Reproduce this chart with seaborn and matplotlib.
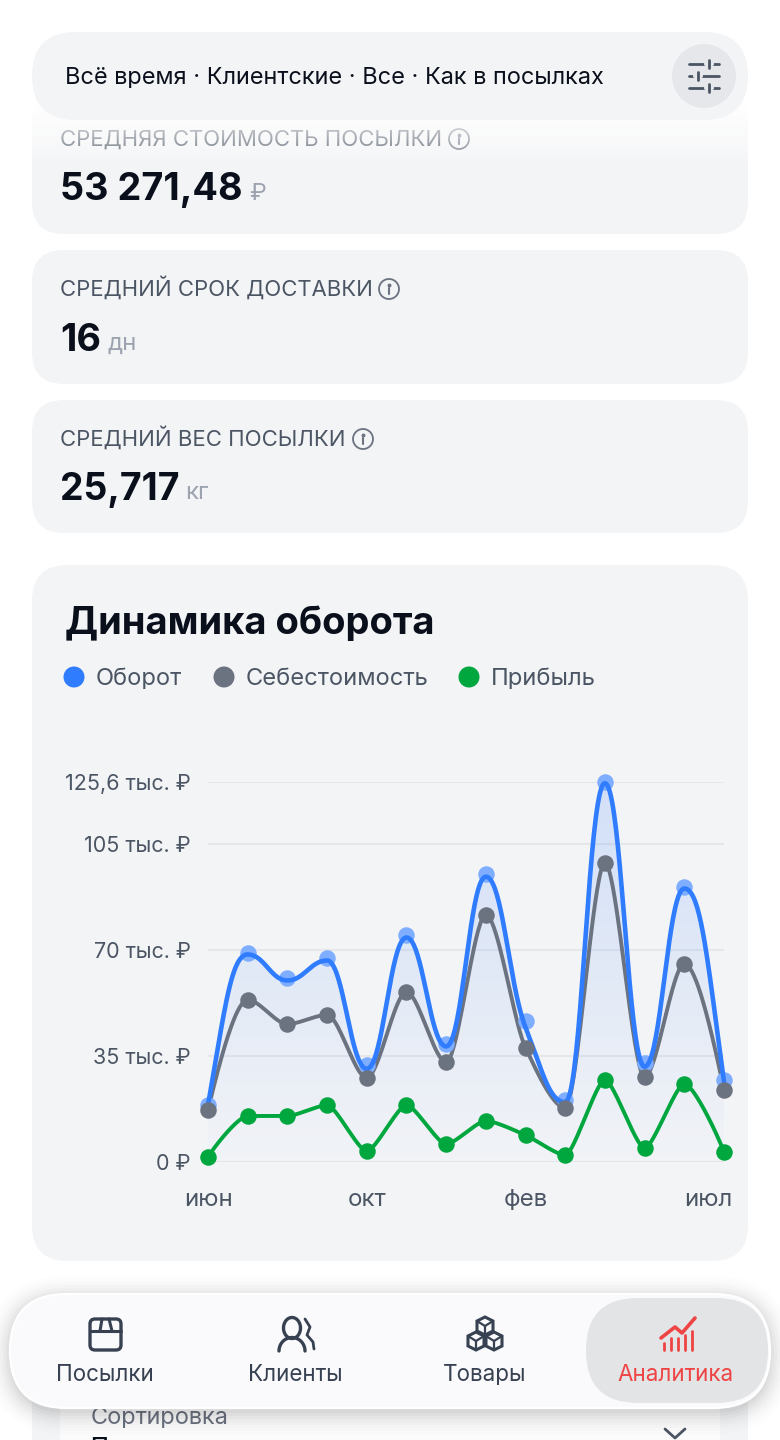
import numpy as np
import pandas as pd
import matplotlib
matplotlib.use("Agg")
import matplotlib.pyplot as plt
import seaborn as sns
from matplotlib.patches import Circle, FancyBboxPatch, Polygon
from matplotlib.transforms import ScaledTranslation

# values in thousands of rubles
oborot = [18.8, 69.0, 60.9, 67.4, 32.0, 75.0, 39.0, 95.2, 46.6, 20.5, 125.6, 32.7, 90.9, 27.1]
# the blue curve runs slightly off its own dots in the picture
oborot_curve = [18.8, 68.6, 60.0, 66.6, 30.8, 74.2, 38.2, 94.3, 44.5, 19.8, 125.2, 31.5, 90.4, 26.5]
sebest = [17.2, 53.6, 45.6, 48.6, 27.8, 56.2, 33.0, 81.7, 37.7, 17.9, 98.8, 28.1, 65.5, 23.8]
pribyl = [1.7, 15.2, 15.2, 18.8, 3.6, 18.8, 5.9, 13.6, 8.9, 2.3, 27.1, 4.6, 25.8, 3.3]
months = list(range(14))
month_ticks = [0, 4, 8, 13]
month_labels = ["июн", "окт", "фев", "июл"]
y_ticks = [0, 35, 70, 105, 125.6]
y_labels = ["0 ₽", "35 тыс. ₽", "70 тыс. ₽", "105 тыс. ₽", "125,6 тыс. ₽"]
series_names = ["Оборот", "Себестоимость", "Прибыль"]
nav_labels = ["Посылки", "Клиенты", "Товары", "Аналитика"]

BLUE = "#2f7cff"
GRAY = "#6b7280"
GREEN = "#00a63e"
CARD = "#f3f4f6"
LABEL = "#4b5563"
INK = "#0a0f1c"
NAV = "#374151"
RED = "#ef4444"

sns.set_theme(style="white")
plt.rcParams["font.family"] = ["Inter", "DejaVu Sans"]


def px(size):
    return size * 72 / 100


def smooth(values, handle):
    # monotone bezier through the values, handle sets how round the corners are
    y = np.array(values, dtype=float)
    d = np.diff(y)
    m = np.zeros(len(y))
    for i in range(1, len(y) - 1):
        if d[i - 1] * d[i] > 0:
            m[i] = 2 * d[i - 1] * d[i] / (d[i - 1] + d[i])
    m[0] = (3 * d[0] - m[1]) / 2
    m[-1] = (3 * d[-1] - m[-2]) / 2
    t = np.linspace(0, 1, 40)[:, None]
    xs, ys = [], []
    for i in range(len(y) - 1):
        cx = np.array([i, i + handle, i + 1 - handle, i + 1])
        cy = np.array([y[i], y[i] + handle * m[i], y[i + 1] - handle * m[i + 1], y[i + 1]])
        basis = np.hstack([(1 - t) ** 3, 3 * t * (1 - t) ** 2, 3 * t ** 2 * (1 - t), t ** 3])
        xs.extend(basis @ cx)
        ys.extend(basis @ cy)
    return pd.DataFrame({"x": xs, "y": ys})


def card(ui, x0, y0, x1, y1, r, color=CARD, z=1, **kw):
    p = FancyBboxPatch(
        (x0, y0), x1 - x0, y1 - y0,
        boxstyle=f"round,pad=0,rounding_size={r}",
        fc=color, ec=kw.pop("ec", "none"), lw=kw.pop("lw", 0), zorder=z, **kw,
    )
    ui.add_patch(p)
    return p


def label(ui, x, y, s, size, color=LABEL, weight="normal", ha="left", z=3, va="baseline"):
    return ui.text(x, y, s, fontsize=px(size), color=color, fontweight=weight, ha=ha, va=va, zorder=z)


def info(ui, x, y, color="#6b7280", z=3):
    ui.add_patch(Circle((x, y), 10, fc="none", ec=color, lw=1.3, zorder=z))
    ui.plot([x, x], [y - 1, y + 5], color=color, lw=1.5, zorder=z)
    ui.plot([x], [y - 4.5], marker="o", ms=1.8, color=color, zorder=z)


def draw_ui(ui):
    ui.set_xlim(0, 780)
    ui.set_ylim(1440, 0)
    ui.axis("off")

    # stat cards
    card(ui, 32, 90, 748, 234, 32)
    card(ui, 32, 250, 748, 384, 32)
    card(ui, 32, 400, 748, 533, 32)
    card(ui, 32, 565, 748, 1261, 36)

    label(ui, 60, 146, "СРЕДНЯЯ СТОИМОСТЬ ПОСЫЛКИ", 22.1)
    info(ui, 459, 139)
    label(ui, 60, 200, "53 271,48", 37.8, INK, "bold")
    label(ui, 249, 200, "₽", 24, "#9ca3af")

    label(ui, 60, 296, "СРЕДНИЙ СРОК ДОСТАВКИ", 22.1)
    info(ui, 389, 289)
    label(ui, 60, 351, "16", 37.8, INK, "bold")
    label(ui, 107, 350, "дн", 24, "#9ca3af")

    label(ui, 60, 446, "СРЕДНИЙ ВЕС ПОСЫЛКИ", 22.1)
    info(ui, 363, 439)
    label(ui, 60, 500, "25,717", 37.4, INK, "bold")
    label(ui, 185, 499, "кг", 24, "#9ca3af")

    # white fade under the filter pill
    fade = np.ones((64, 1, 4))
    fade[:, 0, 3] = np.linspace(1, 0, 64) ** 0.8
    ui.imshow(fade, extent=(20, 760, 166, 102), aspect="auto", zorder=4)
    ui.set_xlim(0, 780)
    ui.set_ylim(1440, 0)

    # filter pill
    card(ui, 32, 32, 748, 120, 44, z=5)
    label(ui, 65, 84, "Всё время · Клиентские · Все · Как в посылках", 23.5, INK, z=6)
    ui.add_patch(Circle((704, 76), 32, fc="#e5e7eb", ec="none", zorder=6))
    for yy, x_knob in [(64, 709), (76, 698), (88, 709)]:
        ui.plot([689, 719], [yy, yy], color=LABEL, lw=2, zorder=7)
        ui.plot([x_knob - 3, x_knob + 3], [yy, yy], color="#e5e7eb", lw=3, zorder=7)
        ui.plot([x_knob, x_knob], [yy - 4, yy + 4], color=LABEL, lw=2, zorder=8)

    # chart title and legend
    label(ui, 65, 634, "Динамика оборота", 38.1, INK, "bold")
    for cx, tx, name, color in zip([74, 224, 469], [96, 246, 491], series_names, [BLUE, GRAY, GREEN]):
        ui.add_patch(Circle((cx, 677), 10.5, fc=color, ec="none", zorder=3))
        label(ui, tx, 685, name, 23.7)

    # card under the navigation bar
    card(ui, 32, 1330, 748, 1500, 32, z=1)
    card(ui, 60, 1385, 720, 1500, 20, color="#fbfbfc", z=2)
    label(ui, 91, 1424, "Сортировка", 23.5, GRAY)
    label(ui, 91, 1453, "По умолчанию", 24, INK, "medium")
    ui.plot([665, 675, 685], [1429, 1438, 1429], color=LABEL, lw=2, zorder=3)

    # navigation bar
    for grow, alpha in zip(range(22, 0, -3), np.linspace(0.006, 0.03, 8)):
        card(ui, 10 - grow, 1294 - grow + 4, 770 + grow, 1408 + grow + 4, 57 + grow,
             color="black", z=8, alpha=alpha)
    card(ui, 10, 1294, 770, 1408, 57, color="#fafafc", z=9, ec="white", lw=1.6)
    card(ui, 586, 1298, 768, 1403, 52, color="#e3e4e6", z=10)
    for x, name in zip([105, 295, 485, 675], nav_labels):
        label(ui, x, 1381, name, 22.4, RED if name == "Аналитика" else NAV, ha="center", z=11)

    # parcel icon
    card(ui, 90, 1319, 121, 1350, 5, color="none", z=11, ec=NAV, lw=2.4)
    ui.plot([90, 121], [1331, 1331], color=NAV, lw=2.2, zorder=11)
    ui.plot([102, 100], [1319, 1331], color=NAV, lw=2.2, zorder=11)
    ui.plot([109, 112], [1319, 1331], color=NAV, lw=2.2, zorder=11)

    # people icon
    ang = np.linspace(0, 2 * np.pi, 60)
    ui.plot(292 + 8.5 * np.cos(ang), 1328 + 10.5 * np.sin(ang), color=NAV, lw=2.4, zorder=11)
    arc = np.linspace(np.pi, 2 * np.pi, 30)
    ui.plot(292 + 13 * np.cos(arc), 1351 + 13.5 * np.sin(arc), color=NAV, lw=2.4, zorder=11)
    ui.plot([305, 310, 307, 313, 314], [1319, 1327, 1335, 1342, 1349], color=NAV, lw=2, zorder=11)

    # cubes icon
    for cx, cy in [(485, 1326), (476, 1341), (494, 1341)]:
        hexagon = [(cx, cy - 9), (cx + 8, cy - 5), (cx + 8, cy + 5), (cx, cy + 9), (cx - 8, cy + 5), (cx - 8, cy - 5)]
        ui.add_patch(Polygon(hexagon, closed=True, fc="none", ec=NAV, lw=2.2, zorder=11))
        ui.plot([cx - 8, cx, cx + 8], [cy - 5, cy, cy - 5], color=NAV, lw=1.6, zorder=11)
        ui.plot([cx, cx], [cy, cy + 9], color=NAV, lw=1.6, zorder=11)

    # analytics icon
    for x, top in zip([664, 671, 678, 685, 692], [1343, 1338, 1338, 1335, 1331]):
        ui.plot([x, x], [top, 1350], color=RED, lw=2, zorder=11)
    ui.plot([661, 675, 682, 695], [1338, 1327, 1333, 1318], color=RED, lw=2.6, zorder=11)


def draw_chart(ax):
    blue_line = smooth(oborot_curve, 0.42)
    gray_line = smooth(sebest, 0.3)
    green_line = smooth(pribyl, 0.22)

    ax.set_facecolor("none")
    ax.set_xlim(0, 13)
    ax.set_ylim(0, 125.6)
    sns.despine(ax=ax, left=True, bottom=True)
    ax.set_yticks(y_ticks, y_labels)
    ax.set_xticks(month_ticks, month_labels)
    ax.tick_params(axis="y", length=0, pad=px(17), labelsize=px(21.5), labelcolor=LABEL)
    ax.tick_params(axis="x", length=0, pad=px(27), labelsize=px(24), labelcolor=LABEL)
    ax.grid(axis="y", color="#e5e7eb", lw=1.5, zorder=0)
    ax.grid(axis="x", visible=False)
    ax.set_axisbelow(True)

    shift = ScaledTranslation(px(8) / 72, 0, ax.figure.dpi_scale_trans)
    last = ax.get_xticklabels()[-1]
    last.set_ha("right")
    last.set_transform(last.get_transform() + shift)

    # gradient under the blue curve
    area = ax.fill_between(blue_line["x"], blue_line["y"], 0, color="none", lw=0)
    shade = np.zeros((256, 1, 4))
    shade[:, 0, :3] = matplotlib.colors.to_rgb(BLUE)
    shade[:, 0, 3] = np.linspace(0.17, 0.01, 256)
    img = ax.imshow(shade, extent=(0, 13, 0, 125.6), aspect="auto", origin="upper", zorder=1)
    img.set_clip_path(area.get_paths()[0], transform=ax.transData)

    common = dict(legend=False, ax=ax, estimator=None, sort=False, solid_capstyle="round")
    dots = dict(legend=False, ax=ax, s=px(16.5) ** 2, linewidth=0, clip_on=False)

    sns.lineplot(data=gray_line, x="x", y="y", color=GRAY, lw=2.8, zorder=3, **common)
    sns.scatterplot(x=months, y=oborot, color="#7fadff", zorder=4, **dots)
    sns.lineplot(data=blue_line, x="x", y="y", color=BLUE, lw=3.3, zorder=5, **common)
    sns.scatterplot(x=months, y=sebest, color=GRAY, zorder=6, **dots)
    sns.lineplot(data=green_line, x="x", y="y", color=GREEN, lw=2.8, zorder=7, **common)
    sns.scatterplot(x=months, y=pribyl, color=GREEN, zorder=8, **dots)
    ax.set_xlabel("")
    ax.set_ylabel("")
    for line in ax.get_lines():
        line.set_clip_on(False)
    ax.set_xlim(0, 13)
    ax.set_ylim(0, 125.6)


fig = plt.figure(figsize=(7.8, 14.4), dpi=100, facecolor="white")
ui = fig.add_axes([0, 0, 1, 1])
draw_ui(ui)
chart = fig.add_axes([208 / 780, 1 - 1162 / 1440, (724 - 208) / 780, (1162 - 782) / 1440])
draw_chart(chart)
fig.savefig("out.png", dpi=100)
